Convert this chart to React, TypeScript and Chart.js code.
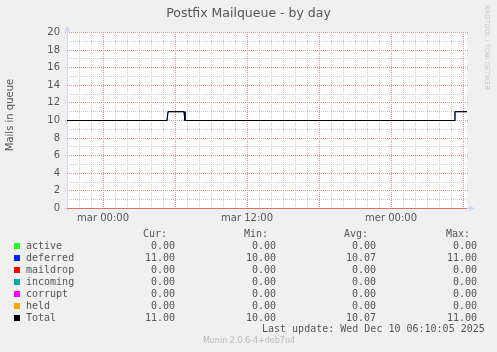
import { useEffect, useRef } from 'react';
import { Chart, registerables } from 'chart.js';
Chart.register(...registerables);

const TITLE = 'Postfix Mailqueue - by day';
const Y_TITLE = 'Mails in queue';
const WATERMARK = 'RRDTOOL / TOBI OETIKER';
const LAST_UPDATE = 'Last update: Wed Dec 10 06:10:05 2025';
const VERSION = 'Munin 2.0.6-4+deb7u4';

// x axis: hours since left edge (lun 21:00), 30h+ window
const SPAN_HOURS = 33.333;
const gridHours = Array.from({ length: 34 }, (_, i) => i);
const majorHours = [3, 9, 15, 21, 27, 33];
const xTickHours = [3, 15, 27];
const xTickLabels = ['mar 00:00', 'mar 12:00', 'mer 00:00'];
const yGridValues = Array.from({ length: 21 }, (_, i) => i);
const yLabelValues = [0, 2, 4, 6, 8, 10, 12, 14, 16, 18, 20];

// series samples
const sampleHours = [0, 8.33, 8.42, 9.75, 9.83, 32.25, 32.33, 33.333];
const deferredValues = [10, 10, 11, 11, 10, 10, 11, 11];
const totalValues = [10, 10, 11, 11, 10, 10, 11, 11];
const zeroHours = [0, 33.333];
const activeValues = [0, 0];
const maildropValues = [0, 0];
const incomingValues = [0, 0];
const corruptValues = [0, 0];
const heldValues = [0, 0];

// legend
const legendNames = ['active', 'deferred', 'maildrop', 'incoming', 'corrupt', 'held', 'Total'];
const legendColors = ['#22ff22', '#0022ff', '#ff0000', '#00aaaa', '#ff00ff', '#ffa500', '#000000'];
const curValues = [0, 11, 0, 0, 0, 0, 11];
const minValues = [0, 10, 0, 0, 0, 0, 10];
const avgValues = [0, 10.07, 0, 0, 0, 0, 10.07];
const maxValues = [0, 11, 0, 0, 0, 0, 11];

const toPoints = (xs: number[], ys: number[]) => xs.map((x, i) => ({ x, y: ys[i] }));

const TEXT = '#555555';
const MONO = '10px "DejaVu Sans Mono", monospace';
const MAJOR = 'rgb(236,150,150)';
const MINOR = 'rgb(202,202,202)';

const decor = {
  id: 'decor',
  beforeDraw(chart: any) {
    const { ctx, chartArea: a } = chart;
    ctx.save();
    ctx.fillStyle = '#f0f0f0';
    ctx.fillRect(0, 0, chart.width, chart.height);
    ctx.fillStyle = '#ffffff';
    ctx.fillRect(Math.round(a.left), Math.round(a.top) - 1, a.right - a.left, a.bottom - a.top + 1);
    ctx.restore();
  },
  beforeDatasetsDraw(chart: any) {
    const { ctx, chartArea: a, scales } = chart;
    const xs = scales.x;
    const ys = scales.y;
    ctx.save();
    ctx.lineWidth = 1;
    ctx.setLineDash([1, 1]);
    const left = Math.floor(a.left);
    const right = Math.ceil(a.right);
    const top = Math.floor(a.top);
    const bottom = Math.floor(a.bottom);
    [false, true].forEach((major) => {
      ctx.strokeStyle = major ? MAJOR : MINOR;
      ctx.beginPath();
      gridHours.forEach((h) => {
        if (h === 0 || majorHours.includes(h) !== major) return;
        const x = Math.round(xs.getPixelForValue(h)) + 0.5;
        ctx.moveTo(x, top);
        ctx.lineTo(x, bottom + (major ? 2 : 0));
      });
      yGridValues.forEach((v) => {
        if (v === 0 || (v % 2 === 0) !== major) return;
        const y = Math.floor(ys.getPixelForValue(v)) + 0.5;
        ctx.moveTo(left - (major ? 2 : 0), y);
        ctx.lineTo(right + (major ? 2 : 0), y);
      });
      ctx.stroke();
    });
    ctx.setLineDash([]);
    const lx = left + 0.5;
    const by = bottom + 0.5;
    ctx.strokeStyle = '#cfd6f8';
    ctx.fillStyle = '#cfd6f8';
    ctx.beginPath();
    ctx.moveTo(lx, by + 3);
    ctx.lineTo(lx, a.top - 4);
    ctx.moveTo(lx - 3.5, by);
    ctx.lineTo(a.right + 4, by);
    ctx.stroke();
    ctx.beginPath();
    ctx.moveTo(lx, a.top - 7);
    ctx.lineTo(lx - 3, a.top - 1);
    ctx.lineTo(lx + 3, a.top - 1);
    ctx.closePath();
    ctx.fill();
    ctx.beginPath();
    ctx.moveTo(a.right + 8, by);
    ctx.lineTo(a.right + 2, by - 3);
    ctx.lineTo(a.right + 2, by + 3);
    ctx.closePath();
    ctx.fill();
    ctx.restore();
  },
  afterDraw(chart: any) {
    const { ctx } = chart;
    ctx.save();
    ctx.fillStyle = TEXT;
    ctx.textBaseline = 'middle';
    ctx.textAlign = 'center';
    ctx.font = '12.5px "DejaVu Sans", sans-serif';
    ctx.fillText(TITLE, 248.5, 14);

    ctx.save();
    ctx.translate(10, 115);
    ctx.rotate(-Math.PI / 2);
    ctx.font = '10px "DejaVu Sans", sans-serif';
    ctx.fillText(Y_TITLE, 0, 0);
    ctx.restore();

    ctx.save();
    ctx.translate(487, 5);
    ctx.rotate(Math.PI / 2);
    ctx.textAlign = 'left';
    ctx.fillStyle = '#c8c8c8';
    ctx.font = '6.6px "DejaVu Sans", sans-serif';
    ctx.fillText(WATERMARK, 0, 0);
    ctx.restore();

    // legend
    ctx.font = MONO;
    ctx.textAlign = 'right';
    const headY = 234;
    ctx.fillText('Cur:', 167, headY);
    ctx.fillText('Min:', 268, headY);
    ctx.fillText('Avg:', 368, headY);
    ctx.fillText('Max:', 470, headY);
    const colsX = [175, 276, 376, 477];
    const cols = [curValues, minValues, avgValues, maxValues];
    legendNames.forEach((name, i) => {
      const y = 246 + i * 12;
      ctx.fillStyle = legendColors[i];
      ctx.fillRect(14, y - 3, 6, 6);
      ctx.fillStyle = TEXT;
      ctx.textAlign = 'left';
      ctx.fillText(name, 26, y);
      ctx.textAlign = 'right';
      cols.forEach((c, j) => ctx.fillText(c[i].toFixed(2), colsX[j], y));
    });
    ctx.textAlign = 'left';
    ctx.fillText(LAST_UPDATE, 262, 329);
    ctx.textAlign = 'center';
    ctx.fillStyle = '#bbbbbb';
    ctx.font = '8px "DejaVu Sans", sans-serif';
    ctx.fillText(VERSION, 249, 341);
    ctx.restore();
  },
};

export default function App() {
  const ref = useRef<HTMLCanvasElement>(null);
  useEffect(() => {
    const ds = (label: string, xs: number[], ys: number[], color: string) => ({
      label,
      data: toPoints(xs, ys),
      borderColor: color,
      backgroundColor: color,
      borderWidth: 1,
      pointRadius: 0,
      tension: 0,
      fill: false,
    });
    const chart = new Chart(ref.current!, {
      type: 'line',
      data: {
        datasets: [
          ds('active', zeroHours, activeValues, legendColors[0]),
          ds('deferred', sampleHours, deferredValues, legendColors[1]),
          ds('maildrop', zeroHours, maildropValues, legendColors[2]),
          ds('incoming', zeroHours, incomingValues, legendColors[3]),
          ds('corrupt', zeroHours, corruptValues, legendColors[4]),
          ds('held', zeroHours, heldValues, legendColors[5]),
          ds('Total', sampleHours, totalValues, legendColors[6]),
        ].reverse(),
      },
      options: {
        responsive: false,
        animation: false,
        events: [],
        layout: { padding: { left: 0, top: 32.5, right: 30, bottom: 123.5 } },
        plugins: { legend: { display: false }, title: { display: false }, tooltip: { enabled: false } },
        scales: {
          x: {
            type: 'linear',
            min: 0,
            max: SPAN_HOURS,
            afterBuildTicks: (s: any) => { s.ticks = xTickHours.map((v) => ({ value: v })); },
            afterFit: (s: any) => { s.height = 20; },
            grid: { display: false, drawTicks: false },
            border: { display: false },
            ticks: {
              autoSkip: false,
              maxRotation: 0,
              padding: 4,
              color: TEXT,
              font: { size: 10, family: '"DejaVu Sans", sans-serif' },
              callback: (v: any) => {
                const i = xTickHours.indexOf(Number(v));
                return i >= 0 ? xTickLabels[i] : '';
              },
            },
          },
          y: {
            type: 'linear',
            min: 0,
            max: 20,
            afterBuildTicks: (s: any) => { s.ticks = yLabelValues.map((v) => ({ value: v })); },
            afterFit: (s: any) => { s.width = 67; },
            grid: { display: false, drawTicks: false },
            border: { display: false },
            ticks: {
              autoSkip: false,
              padding: 7,
              color: TEXT,
              font: { size: 10, family: '"DejaVu Sans", sans-serif' },
            },
          },
        },
      },
      plugins: [decor],
    } as any);
    return () => chart.destroy();
  }, []);
  return (
    <div style={{ position: 'fixed', left: 0, top: 0, width: 497, height: 352, background: '#f0f0f0' }}>
      <canvas ref={ref} width={497} height={352} style={{ display: 'block' }} />
    </div>
  );
}
